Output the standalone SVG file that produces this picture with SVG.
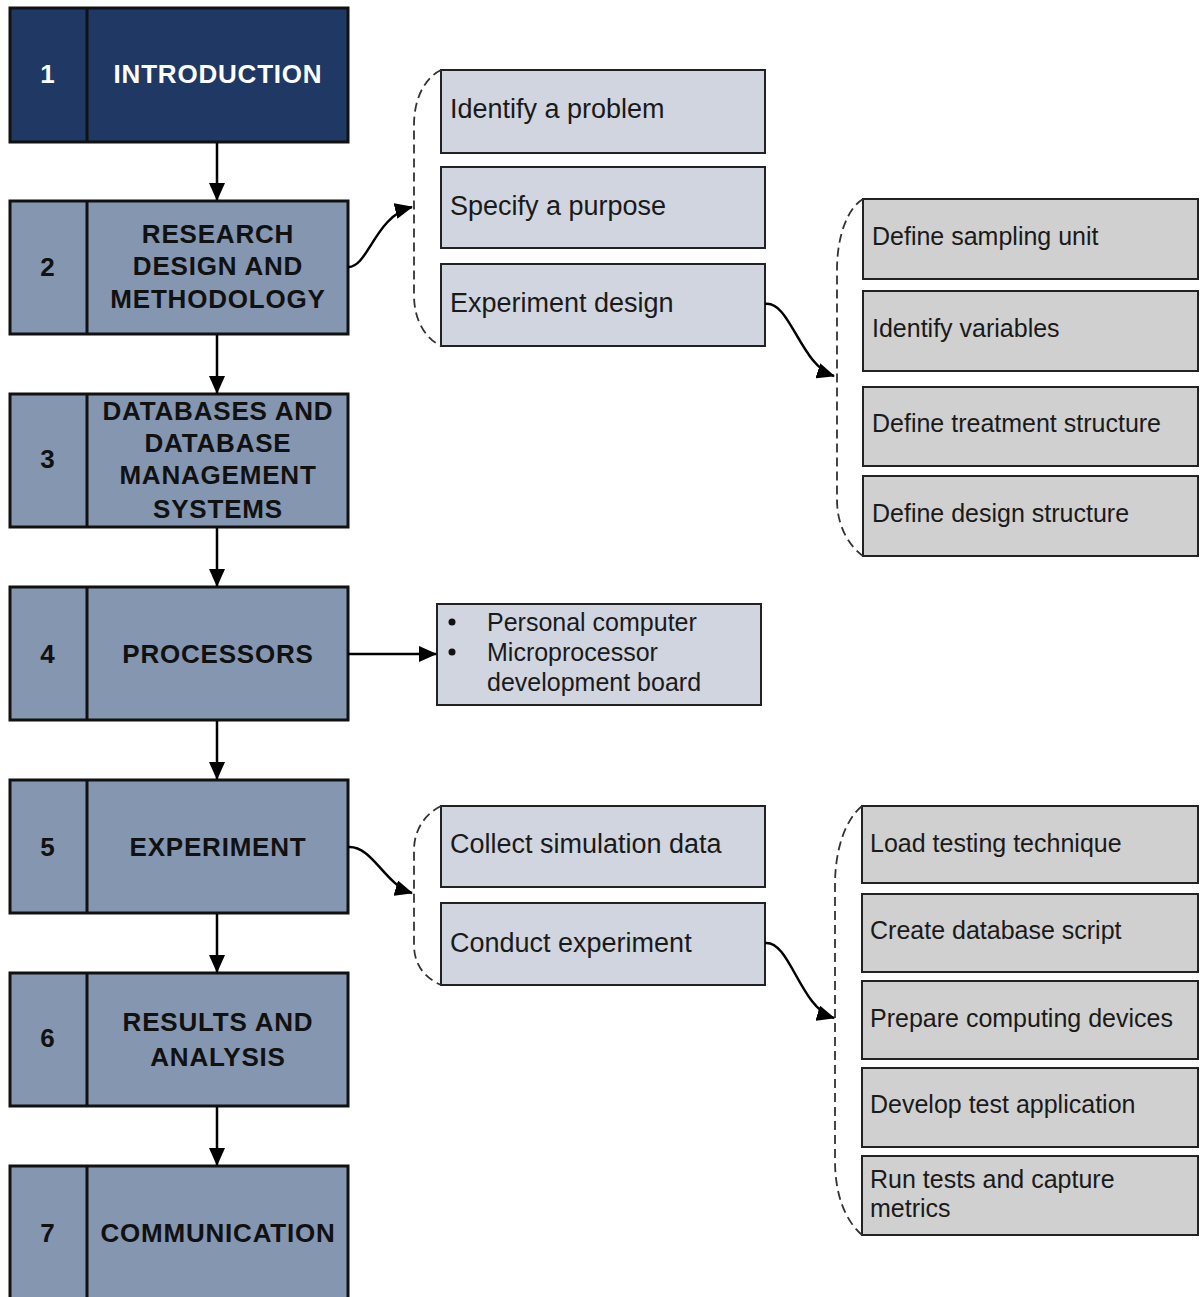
<svg xmlns="http://www.w3.org/2000/svg" width="1200" height="1297" viewBox="0 0 1200 1297">
  <style>
    .stage { fill: #8496B0; stroke: #111; stroke-width: 3; }
    .stage-top { fill: #1F3864; stroke: #111; stroke-width: 3; }
    .div { stroke: #111; stroke-width: 3; }
    .lbl { font-family: "Liberation Sans", Arial, sans-serif; font-weight: bold; font-size: 26px; letter-spacing: 0.8px; fill: #111; text-anchor: middle; }
    .lbl-w { fill: #fff; }
    .sub { fill: #D0D5DF; stroke: #222; stroke-width: 2; }
    .sub-g { fill: #D0D0D0; stroke: #222; stroke-width: 2; }
    .t27 { font-family: "Liberation Sans", Arial, sans-serif; font-size: 27px; fill: #1a1a1a; }
    .t25 { font-family: "Liberation Sans", Arial, sans-serif; font-size: 25px; fill: #1a1a1a; }
    .conn { fill: none; stroke: #000; stroke-width: 2.5; marker-end: url(#arrow); }
    .brace { fill: none; stroke: #333; stroke-width: 1.8; stroke-dasharray: 9 5; }
  </style>
  <defs>
    <marker id="arrow" viewBox="0 0 18 16" refX="17" refY="8" markerWidth="18" markerHeight="16" markerUnits="userSpaceOnUse" orient="auto">
      <path d="M0,0 L18,8 L0,16 z" fill="#000"/>
    </marker>
  </defs>
  <rect width="1200" height="1297" fill="#fff"/>

  <!-- main stages -->
  <g id="stage1">
    <rect class="stage-top" x="10" y="8" width="338" height="134"/>
    <line class="div" x1="87" y1="8" x2="87" y2="142"/>
    <text class="lbl lbl-w" x="48" y="83">1</text>
    <text class="lbl lbl-w" x="218" y="83">INTRODUCTION</text>
  </g>
  <g id="stage2">
    <rect class="stage" x="10" y="201" width="338" height="133"/>
    <line class="div" x1="87" y1="201" x2="87" y2="334"/>
    <text class="lbl" x="48" y="276">2</text>
    <text class="lbl" x="218" y="243">RESEARCH</text>
    <text class="lbl" x="218" y="275">DESIGN AND</text>
    <text class="lbl" x="218" y="308">METHODOLOGY</text>
  </g>
  <g id="stage3">
    <rect class="stage" x="10" y="394" width="338" height="133"/>
    <line class="div" x1="87" y1="394" x2="87" y2="527"/>
    <text class="lbl" x="48" y="468">3</text>
    <text class="lbl" x="218" y="420">DATABASES AND</text>
    <text class="lbl" x="218" y="452">DATABASE</text>
    <text class="lbl" x="218" y="484">MANAGEMENT</text>
    <text class="lbl" x="218" y="518">SYSTEMS</text>
  </g>
  <g id="stage4">
    <rect class="stage" x="10" y="587" width="338" height="133"/>
    <line class="div" x1="87" y1="587" x2="87" y2="720"/>
    <text class="lbl" x="48" y="663">4</text>
    <text class="lbl" x="218" y="663">PROCESSORS</text>
  </g>
  <g id="stage5">
    <rect class="stage" x="10" y="780" width="338" height="133"/>
    <line class="div" x1="87" y1="780" x2="87" y2="913"/>
    <text class="lbl" x="48" y="856">5</text>
    <text class="lbl" x="218" y="856">EXPERIMENT</text>
  </g>
  <g id="stage6">
    <rect class="stage" x="10" y="973" width="338" height="133"/>
    <line class="div" x1="87" y1="973" x2="87" y2="1106"/>
    <text class="lbl" x="48" y="1047">6</text>
    <text class="lbl" x="218" y="1031">RESULTS AND</text>
    <text class="lbl" x="218" y="1066">ANALYSIS</text>
  </g>
  <g id="stage7">
    <rect class="stage" x="10" y="1166" width="338" height="150"/>
    <line class="div" x1="87" y1="1166" x2="87" y2="1316"/>
    <text class="lbl" x="48" y="1242">7</text>
    <text class="lbl" x="218" y="1242">COMMUNICATION</text>
  </g>

  <!-- research design steps -->
  <g id="identify-problem">
    <rect class="sub" x="441" y="70" width="324" height="83"/>
    <text class="t27" x="450" y="118">Identify a problem</text>
  </g>
  <g id="specify-purpose">
    <rect class="sub" x="441" y="167" width="324" height="81"/>
    <text class="t27" x="450" y="215">Specify a purpose</text>
  </g>
  <g id="experiment-design">
    <rect class="sub" x="441" y="264" width="324" height="82"/>
    <text class="t27" x="450" y="312">Experiment design</text>
  </g>

  <!-- experiment design steps -->
  <g id="sampling-unit">
    <rect class="sub-g" x="863" y="199" width="335" height="80"/>
    <text class="t25" x="872" y="245">Define sampling unit</text>
  </g>
  <g id="identify-variables">
    <rect class="sub-g" x="863" y="291" width="335" height="80"/>
    <text class="t25" x="872" y="337">Identify variables</text>
  </g>
  <g id="treatment-structure">
    <rect class="sub-g" x="863" y="387" width="335" height="79"/>
    <text class="t25" x="872" y="432">Define treatment structure</text>
  </g>
  <g id="design-structure">
    <rect class="sub-g" x="863" y="476" width="335" height="80"/>
    <text class="t25" x="872" y="522">Define design structure</text>
  </g>

  <!-- processors list -->
  <g id="processor-list">
    <rect class="sub" x="437" y="604" width="324" height="101"/>
    <circle cx="452" cy="622" r="3.5" fill="#111"/>
    <circle cx="452" cy="652" r="3.5" fill="#111"/>
    <text class="t25" x="487" y="631">Personal computer</text>
    <text class="t25" x="487" y="661">Microprocessor</text>
    <text class="t25" x="487" y="691">development board</text>
  </g>

  <!-- experiment steps -->
  <g id="collect-data">
    <rect class="sub" x="441" y="806" width="324" height="81"/>
    <text class="t27" x="450" y="853">Collect simulation data</text>
  </g>
  <g id="conduct-experiment">
    <rect class="sub" x="441" y="903" width="324" height="82"/>
    <text class="t27" x="450" y="952">Conduct experiment</text>
  </g>

  <!-- conduct experiment steps -->
  <g id="load-testing">
    <rect class="sub-g" x="862" y="806" width="336" height="77"/>
    <text class="t25" x="870" y="852">Load testing technique</text>
  </g>
  <g id="database-script">
    <rect class="sub-g" x="862" y="894" width="336" height="78"/>
    <text class="t25" x="870" y="939">Create database script</text>
  </g>
  <g id="computing-devices">
    <rect class="sub-g" x="862" y="981" width="336" height="78"/>
    <text class="t25" x="870" y="1027">Prepare computing devices</text>
  </g>
  <g id="test-application">
    <rect class="sub-g" x="862" y="1068" width="336" height="79"/>
    <text class="t25" x="870" y="1113">Develop test application</text>
  </g>
  <g id="run-tests">
    <rect class="sub-g" x="862" y="1156" width="336" height="79"/>
    <text class="t25" x="870" y="1188">Run tests and capture</text>
    <text class="t25" x="870" y="1217">metrics</text>
  </g>

  <!-- connectors -->
  <g id="connectors">
    <path class="brace" d="M 441 70 C 425 78, 414 98, 414 125 L 414 295 C 414 320, 425 338, 441 346"/>
    <path class="brace" d="M 863 199 C 848 208, 837 235, 837 270 L 837 500 C 837 525, 848 545, 863 556"/>
    <path class="brace" d="M 441 806 C 425 814, 414 830, 414 850 L 414 945 C 414 965, 425 978, 441 985"/>
    <path class="brace" d="M 862 806 C 845 820, 835 850, 835 885 L 835 1160 C 835 1195, 845 1220, 862 1235"/>

    <path class="conn" d="M 217 143 L 217 200"/>
    <path class="conn" d="M 217 335 L 217 393"/>
    <path class="conn" d="M 217 528 L 217 586"/>
    <path class="conn" d="M 217 721 L 217 779"/>
    <path class="conn" d="M 217 914 L 217 972"/>
    <path class="conn" d="M 217 1107 L 217 1165"/>

    <path class="conn" d="M 348 267 C 368 268, 375 216, 412 207"/>
    <path class="conn" d="M 765 304 C 790 300, 800 365, 834 376"/>
    <path class="conn" d="M 348 654 L 436 654"/>
    <path class="conn" d="M 348 847 C 372 845, 385 885, 412 893"/>
    <path class="conn" d="M 765 943 C 790 940, 800 1008, 834 1018"/>
  </g>
</svg>
